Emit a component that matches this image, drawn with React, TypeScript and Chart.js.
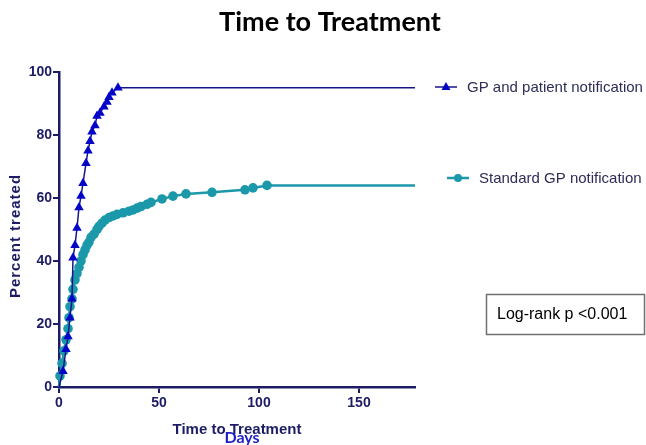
import React, { useEffect, useRef } from "react";
import { Chart, registerables } from "chart.js";

Chart.register(...registerables);

const titleText = "Time to Treatment";
const yAxisTitle = "Percent treated";
const xAxisTitle = "Time to Treatment";
const xAxisSub = "Days";
const seriesNames = ["GP and patient notification", "Standard GP notification"];
const statText = "Log-rank p <0.001";

const xTicks = [0, 50, 100, 150];
const yTicks = [0, 20, 40, 60, 80, 100];

const gpPatientDays = [0, 2, 3.5, 4.5, 5.5, 6.5, 7, 8, 9, 10, 11, 12, 13.5, 14.5, 15.5, 16.5, 18, 19, 20.5, 22.5, 24, 25, 26.5, 29.5, 178];
const gpPatientPct = [0, 5, 12, 16, 22, 28, 41, 45, 50.5, 57, 60.6, 64.7, 71, 75, 78, 81, 83, 86, 87, 89, 90.5, 92, 93.4, 95, 95];

const standardDays = [0, 0.5, 1.5, 2.5, 3.5, 4.5, 5, 5.5, 6.5, 7, 8, 9, 10, 11, 12, 13, 14, 15, 16, 17.5, 19, 20, 21.5, 23, 25, 27, 29, 32, 35, 37, 39, 41, 44, 46, 51.5, 57, 63.5, 76.5, 93, 97, 104, 178];
const standardPct = [0, 3.5, 7.5, 11.5, 15, 18.5, 22, 25.5, 28, 31, 34, 36, 38, 40, 42, 43.5, 45, 46, 47.5, 48.5, 50, 51, 52, 53, 53.8, 54.3, 54.8, 55.3, 55.8, 56.2, 56.8, 57.3, 58, 58.6, 59.7, 60.6, 61.3, 61.8, 62.6, 63.2, 64, 64];

const NAVY = "#1c1c66";
const BLUE_LINE = "#16168a";
const BLUE_MARK = "#0505c8";
const TEAL = "#1b98aa";

function radii(n: number, r: number) {
  return Array.from({ length: n }, (_, i) => (i === 0 || i === n - 1 ? 0 : r));
}

export default function App() {
  const ref = useRef<HTMLCanvasElement | null>(null);

  useEffect(() => {
    if (!ref.current) return;
    const textPlugin = {
      id: "annotText",
      afterDraw(chart: any) {
        const ctx = chart.ctx as CanvasRenderingContext2D;
        ctx.save();
        // Title
        ctx.fillStyle = "#000";
        ctx.font = "bold 27px Lato";
        ctx.textAlign = "center";
        ctx.textBaseline = "alphabetic";
        ctx.fillText(titleText, 330, 31);

        // Y axis title
        ctx.save();
        ctx.translate(20, 236);
        ctx.rotate(-Math.PI / 2);
        ctx.fillStyle = NAVY;
        ctx.font = "bold 15px 'Liberation Sans'";
        (ctx as any).letterSpacing = "1px";
        ctx.textAlign = "center";
        ctx.fillText(yAxisTitle, 0, 0);
        ctx.restore();

        // X axis title
        ctx.save();
        ctx.fillStyle = NAVY;
        ctx.font = "bold 15px 'Liberation Sans'";
        ctx.textAlign = "center";
        ctx.fillText(xAxisTitle, 237, 434);
        ctx.restore();
        ctx.fillStyle = "#2020c8";
        ctx.font = "bold 16px Lato";
        ctx.textAlign = "center";
        ctx.fillText(xAxisSub, 242, 443);

        // Legend
        const rows = [
          { y: 87, x0: 435, x1: 457, text: seriesNames[0], tx: 467, kind: "tri" },
          { y: 178, x0: 447, x1: 469, text: seriesNames[1], tx: 479, kind: "dot" },
        ];
        rows.forEach((r) => {
          ctx.beginPath();
          ctx.moveTo(r.x0, r.y);
          ctx.lineTo(r.x1, r.y);
          ctx.strokeStyle = r.kind === "tri" ? BLUE_LINE : TEAL;
          ctx.lineWidth = r.kind === "tri" ? 1.5 : 2.5;
          ctx.stroke();
          const cx = (r.x0 + r.x1) / 2;
          ctx.beginPath();
          if (r.kind === "tri") {
            ctx.moveTo(cx, r.y - 5);
            ctx.lineTo(cx + 4.5, r.y + 3);
            ctx.lineTo(cx - 4.5, r.y + 3);
            ctx.closePath();
            ctx.fillStyle = BLUE_MARK;
          } else {
            ctx.arc(cx, r.y, 4, 0, Math.PI * 2);
            ctx.fillStyle = TEAL;
          }
          ctx.fill();
          ctx.fillStyle = "#2d2d58";
          ctx.font = "15px 'Liberation Sans'";
          ctx.textAlign = "left";
          ctx.fillText(r.text, r.tx, r.y + 5);
        });

        // Stats box
        ctx.strokeStyle = "#707070";
        ctx.lineWidth = 1.5;
        ctx.strokeRect(486.5, 294.5, 158, 40);
        ctx.fillStyle = "#000";
        ctx.font = "16px 'Liberation Sans'";
        ctx.textAlign = "left";
        ctx.fillText(statText, 497, 319);
        ctx.restore();
      },
    };

    const chart = new Chart(ref.current, {
      type: "line",
      data: {
        datasets: [
          {
            label: seriesNames[0],
            data: gpPatientDays.map((d, i) => ({ x: d, y: gpPatientPct[i] })),
            borderColor: BLUE_LINE,
            borderWidth: 1.5,
            backgroundColor: BLUE_MARK,
            pointBackgroundColor: BLUE_MARK,
            pointBorderColor: BLUE_MARK,
            pointBorderWidth: 0,
            pointStyle: "triangle",
            pointRadius: radii(gpPatientDays.length, 5.5),
            tension: 0,
            clip: false as any,
          },
          {
            label: seriesNames[1],
            data: standardDays.map((d, i) => ({ x: d, y: standardPct[i] })),
            borderColor: TEAL,
            borderWidth: 2.5,
            backgroundColor: TEAL,
            pointBackgroundColor: TEAL,
            pointBorderColor: TEAL,
            pointBorderWidth: 0,
            pointStyle: "circle",
            pointRadius: radii(standardDays.length, 4.8),
            tension: 0,
            clip: false as any,
          },
        ],
      },
      options: {
        responsive: false,
        animation: false,
        layout: { padding: { top: 72, right: 231, left: 0, bottom: 0 } },
        plugins: {
          legend: { display: false },
          title: { display: false },
          tooltip: { enabled: false },
        },
        scales: {
          x: {
            type: "linear",
            min: 0,
            max: 178,
            afterFit: (s: any) => {
              s.height = 58;
            },
            afterBuildTicks: (s: any) => {
              s.ticks = xTicks.map((v) => ({ value: v }));
            },
            border: { display: true, color: NAVY, width: 2.5 },
            grid: { drawOnChartArea: false, drawTicks: true, tickLength: 6, color: NAVY, lineWidth: 2 },
            ticks: {
              color: NAVY,
              font: { family: "'Liberation Sans'", weight: "bold", size: 14 },
              padding: 2,
              maxRotation: 0,
            },
          },
          y: {
            type: "linear",
            min: 0,
            max: 100,
            afterFit: (s: any) => {
              s.width = 59;
            },
            afterBuildTicks: (s: any) => {
              s.ticks = yTicks.map((v) => ({ value: v }));
            },
            border: { display: true, color: NAVY, width: 2.5 },
            grid: { drawOnChartArea: false, drawTicks: true, tickLength: 6, color: NAVY, lineWidth: 2 },
            ticks: {
              color: NAVY,
              font: { family: "'Liberation Sans'", weight: "bold", size: 14 },
              padding: 1,
            },
          },
        },
      },
      plugins: [textPlugin],
    } as any);
    return () => chart.destroy();
  }, []);

  return (
    <div style={{ position: "fixed", left: 0, top: 0, width: 646, height: 445, background: "#fff" }}>
      <canvas ref={ref} width={646} height={445} style={{ width: 646, height: 445, display: "block" }} />
    </div>
  );
}
